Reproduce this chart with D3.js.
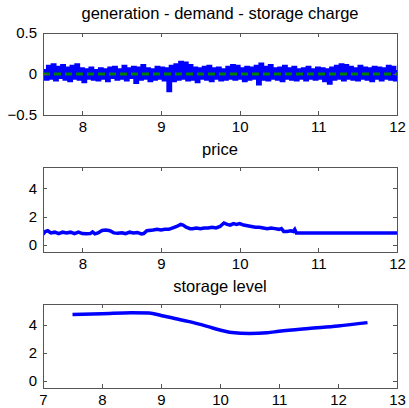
<!DOCTYPE html>
<html>
<head>
<meta charset="utf-8">
<script src="https://cdn.jsdelivr.net/npm/d3@7"></script>
<style>
  html, body { margin: 0; padding: 0; background: #fff; }
  svg { display: block; }
  text { font-family: "Liberation Sans", Arial, sans-serif; fill: #000; }
</style>
</head>
<body>
<svg id="chart" width="409" height="408"></svg>
<script>
// generation - demand - storage charge, sampled every 0.03 from 7.5 to 12
const balanceStart = 7.5;
const balanceStep = 0.03;
const balance = [
  0.04,-0.06,0.09,-0.05,0.11,-0.07,0.08,-0.04,0.10,-0.06,
  0.07,-0.08,0.09,-0.05,0.11,-0.06,0.06,-0.09,0.05,-0.05,
  0.07,-0.06,0.04,-0.07,0.06,-0.05,0.05,-0.08,0.07,-0.04,
  0.08,-0.06,0.05,-0.05,0.09,-0.07,0.06,-0.04,0.08,-0.10,
  0.07,-0.06,0.10,-0.05,0.06,-0.08,0.05,-0.06,0.08,-0.05,
  0.07,-0.07,0.06,-0.20,0.09,-0.08,0.11,-0.06,0.14,-0.05,
  0.13,-0.07,0.10,-0.06,0.07,-0.09,0.06,-0.05,0.08,-0.06,
  0.09,-0.08,0.06,-0.05,0.07,-0.07,0.05,-0.06,0.08,-0.05,
  0.10,-0.06,0.09,-0.05,0.06,-0.08,0.08,-0.06,0.07,-0.05,
  0.09,-0.12,0.12,-0.06,0.08,-0.07,0.10,-0.05,0.06,-0.06,
  0.07,-0.08,0.09,-0.05,0.06,-0.06,0.08,-0.07,0.05,-0.05,
  0.06,-0.07,0.08,-0.05,0.05,-0.06,0.07,-0.05,0.06,-0.08,
  0.05,-0.11,0.07,-0.06,0.09,-0.05,0.11,-0.07,0.10,-0.05,
  0.08,-0.06,0.06,-0.07,0.09,-0.05,0.07,-0.06,0.06,-0.08,
  0.08,-0.05,0.07,-0.07,0.06,-0.05,0.09,-0.06,0.08,-0.07,
  0.05
];
const balanceTarget = [7.5, 12];   // zero reference (dashed)

// price
const priceT = [7.5,7.53,7.56,7.6,7.65,7.7,7.75,7.8,7.85,7.9,7.95,8.0,8.05,8.1,8.13,8.16,8.2,8.25,8.3,8.35,
  8.4,8.45,8.5,8.55,8.6,8.65,8.7,8.75,8.78,8.82,8.9,8.95,9.0,9.05,9.1,9.15,9.2,9.25,9.28,9.32,
  9.37,9.4,9.45,9.5,9.55,9.6,9.65,9.7,9.75,9.8,9.84,9.88,9.92,9.96,10.0,10.05,10.1,10.15,10.2,10.25,
  10.3,10.35,10.4,10.45,10.5,10.53,10.56,10.6,10.65,10.68,10.7,10.72,10.75,11.0,11.5,12.0];
const priceV = [0.75,0.95,1.0,0.85,0.9,0.8,0.9,0.85,0.9,0.8,0.9,0.8,0.78,0.8,0.92,0.78,0.85,1.02,1.05,1.0,
  0.85,0.82,0.85,0.8,0.9,0.85,0.88,0.78,0.8,1.0,1.05,1.1,1.05,1.1,1.1,1.2,1.3,1.45,1.4,1.25,
  1.15,1.15,1.2,1.15,1.2,1.2,1.25,1.2,1.3,1.55,1.45,1.4,1.5,1.45,1.5,1.4,1.35,1.3,1.25,1.25,
  1.2,1.15,1.2,1.15,1.1,1.15,0.95,0.95,1.0,0.95,1.1,0.85,0.85,0.85,0.85,0.85];

// storage level
const storageT = [7.5,8.0,8.5,8.8,9.0,9.2,9.5,9.8,10.0,10.2,10.5,10.8,11.0,11.5,12.0,12.5];
const storageV = [4.75,4.8,4.87,4.85,4.68,4.5,4.22,3.88,3.64,3.47,3.4,3.45,3.55,3.75,3.93,4.17];

// axis settings
const xTicksA = [8, 9, 10, 11, 12];
const xTicksC = [7, 8, 9, 10, 11, 12, 13];
const yTicksA = [-0.5, 0, 0.5];
const yTicksB = [0, 2, 4];

const svg = d3.select("#chart");
const left = 43, right = 397;
const BLUE = "#0000ff", GREEN = "#007f00";
const tickFont = 15, titleFont = 16.5;

function panel(o) {
  const x = d3.scaleLinear().domain(o.xDomain).range([left, right]);
  const y = d3.scaleLinear().domain(o.yDomain).range([o.bottom, o.top]);
  const g = svg.append("g");

  const clipId = "clip" + o.id;
  svg.append("clipPath").attr("id", clipId)
    .append("rect").attr("x", left).attr("y", o.top)
    .attr("width", right - left).attr("height", o.bottom - o.top);

  const marks = g.append("g").attr("clip-path", `url(#${clipId})`);
  o.draw(marks, x, y);

  // box with inward ticks on all four sides
  const axisColor = "#555";
  const tl = 4;
  const ax = g.append("g");
  ax.append("rect").attr("x", left).attr("y", o.top)
    .attr("width", right - left).attr("height", o.bottom - o.top)
    .attr("fill", "none").attr("stroke", axisColor).attr("stroke-width", 1)
    .attr("shape-rendering", "crispEdges");

  const xb = d3.axisBottom(x).tickValues(o.xTicks).tickSizeInner(-tl).tickSizeOuter(0).tickPadding(o.xPad).tickFormat(d3.format("d"));
  const xt = d3.axisTop(x).tickValues(o.xTicks).tickSizeInner(-tl).tickSizeOuter(0).tickFormat("");
  const yl = d3.axisLeft(y).tickValues(o.yTicks).tickSizeInner(-tl).tickSizeOuter(0).tickPadding(6).tickFormat(o.yFormat);
  const yr = d3.axisRight(y).tickValues(o.yTicks).tickSizeInner(-tl).tickSizeOuter(0).tickFormat("");

  [[xb, `translate(0,${o.bottom})`], [xt, `translate(0,${o.top})`],
   [yl, `translate(${left},0)`], [yr, `translate(${right},0)`]].forEach(([a, t]) => {
    const s = ax.append("g").attr("transform", t).call(a);
    s.select(".domain").remove();
    s.selectAll("line").attr("stroke", axisColor).attr("shape-rendering", "crispEdges");
    s.selectAll("text").attr("font-size", tickFont).attr("font-family", "Liberation Sans, Arial, sans-serif").attr("fill", "#000");
  });

  g.append("text").attr("x", (left + right) / 2).attr("y", o.titleY)
    .attr("text-anchor", "middle").attr("font-size", titleFont).text(o.title);
}

panel({
  id: "A", top: 33, bottom: 115, titleY: 19, xPad: 6,
  title: "generation - demand - storage charge",
  xDomain: [7.5, 12], yDomain: [-0.5, 0.5],
  xTicks: xTicksA, yTicks: yTicksA, yFormat: d => d === 0 ? "0" : d3.format(".1f")(d),
  draw: (m, x, y) => {
    const pts = balance.map((v, i) => [balanceStart + i * balanceStep, v]);
    m.append("path").datum(pts)
      .attr("d", d3.line().x(d => x(d[0])).y(d => y(d[1])).curve(d3.curveStepAfter))
      .attr("fill", "none").attr("stroke", BLUE).attr("stroke-width", 3.5);
    m.append("path").datum(balanceTarget.map(t => [t, 0]))
      .attr("d", d3.line().x(d => x(d[0])).y(d => y(d[1])))
      .attr("fill", "none").attr("stroke", GREEN).attr("stroke-width", 3)
      .attr("stroke-dasharray", "7,4");
  }
});

panel({
  id: "B", top: 167, bottom: 252, titleY: 155, xPad: 6,
  title: "price",
  xDomain: [7.5, 12], yDomain: [-0.5, 5.5],
  xTicks: xTicksA, yTicks: yTicksB, yFormat: d3.format("d"),
  draw: (m, x, y) => {
    m.append("path").datum(priceT.map((t, i) => [t, priceV[i]]))
      .attr("d", d3.line().x(d => x(d[0])).y(d => y(d[1])))
      .attr("fill", "none").attr("stroke", BLUE).attr("stroke-width", 3.5);
  }
});

panel({
  id: "C", top: 304, bottom: 388, titleY: 292, xPad: 6,
  title: "storage level",
  xDomain: [7, 13], yDomain: [-0.5, 5.5],
  xTicks: xTicksC, yTicks: yTicksB, yFormat: d3.format("d"),
  draw: (m, x, y) => {
    m.append("path").datum(storageT.map((t, i) => [t, storageV[i]]))
      .attr("d", d3.line().x(d => x(d[0])).y(d => y(d[1])).curve(d3.curveMonotoneX))
      .attr("fill", "none").attr("stroke", BLUE).attr("stroke-width", 3.5);
  }
});
</script>
</body>
</html>
